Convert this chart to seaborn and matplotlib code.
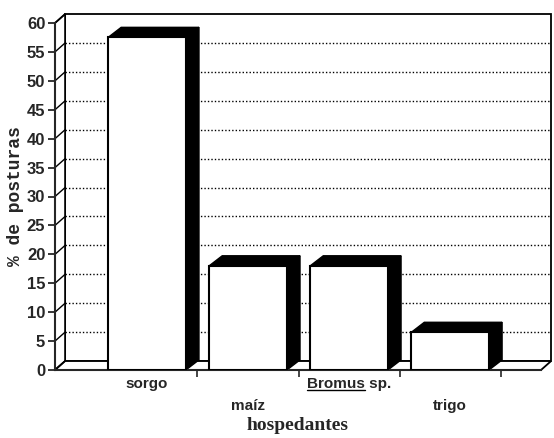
import numpy as np
import pandas as pd
import matplotlib
matplotlib.use("Agg")
import matplotlib.pyplot as plt
from matplotlib.patches import Polygon
from matplotlib.lines import Line2D
import seaborn as sns

# ----------------------
# data
# ----------------------
hosts = ["sorgo", "maíz", "Bromus sp.", "trigo"]
posturas = [57.5, 18.0, 18.0, 6.5]
tick_labels = ["sorgo", "\nmaíz", "Bromus sp.", "\ntrigo"]
yticks = list(range(0, 65, 5))

df = pd.DataFrame({"hospedante": hosts, "posturas": posturas})

# ----------------------
# style
# ----------------------
sns.set_style("ticks")
plt.rcParams["font.family"] = ["Liberation Sans", "DejaVu Sans"]

fig = plt.figure(figsize=(5.54, 4.38), dpi=100)
ax = fig.add_axes([55 / 554, 68 / 438, 486 / 554, 347 / 438])

xl, xr = -0.91, 3.90

# front faces
sns.barplot(data=df, x="hospedante", y="posturas", color="white", edgecolor="black",
            linewidth=1.5, width=0.77, saturation=1, ax=ax, zorder=3)
ax.set_xlim(xl, xr)   # barplot resets the limits, so set them afterwards
ax.set_ylim(0, 60)

# depth offsets (data units) for the fake 3d look
wdx, wdy = 0.10, 1.55   # walls / floor
bdx, bdy = 0.13, 1.75   # bars

# back wall, left wall, floor
ax.add_patch(Polygon([(xl + wdx, wdy), (xr + wdx, wdy), (xr + wdx, 60 + wdy), (xl + wdx, 60 + wdy)],
                     closed=True, facecolor="white", edgecolor="black", lw=1.3, zorder=0, clip_on=False))
ax.add_patch(Polygon([(xl, 0), (xl + wdx, wdy), (xl + wdx, 60 + wdy), (xl, 60)],
                     closed=True, facecolor="white", edgecolor="black", lw=1.3, zorder=0.5, clip_on=False))
ax.add_patch(Polygon([(xl, 0), (xr, 0), (xr + wdx, wdy), (xl + wdx, wdy)],
                     closed=True, facecolor="white", edgecolor="black", lw=1.3, zorder=0.6, clip_on=False))

for yv in yticks[1:-1]:
    ax.plot([xl + wdx, xr + wdx], [yv + wdy, yv + wdy], color="black", ls=(0, (1, 1.5)),
            lw=1.0, zorder=0.4, clip_on=False)
for yv in yticks:
    ax.plot([xl, xl + wdx], [yv, yv + wdy], color="black", lw=1.0, zorder=0.7, clip_on=False)

# top and side faces from the bars seaborn drew
bars = [p for p in ax.patches if p.get_zorder() == 3]
for p in bars:
    x0 = p.get_x()
    x1 = x0 + p.get_width()
    h = p.get_height()
    side = Polygon([(x1, 0), (x1 + bdx, bdy), (x1 + bdx, h + bdy), (x1, h)],
                   closed=True, facecolor="black", edgecolor="black", lw=1.0, zorder=2, clip_on=False)
    top = Polygon([(x0, h), (x1, h), (x1 + bdx, h + bdy), (x0 + bdx, h + bdy)],
                  closed=True, facecolor="black", edgecolor="black", lw=1.0, zorder=2, clip_on=False)
    ax.add_patch(side)
    ax.add_patch(top)

# axes
sns.despine(ax=ax, top=True, right=True)
ax.spines["left"].set_linewidth(1.5)
ax.spines["bottom"].set_linewidth(1.5)
ax.spines["left"].set_zorder(4)
ax.set_yticks(yticks)
ax.set_yticklabels([str(v) for v in yticks], fontsize=12, fontweight="bold")
ax.tick_params(axis="y", length=5, width=1.3, pad=2)

ax.set_xticks(range(len(hosts)))
ax.set_xticklabels(tick_labels, fontsize=11, fontweight="bold")
for t in ax.get_xticklabels():
    t.set_linespacing(1.7)
ax.tick_params(axis="x", length=0, pad=5)
ax.set_xticks([0.5, 1.5, 2.5, 3.5], minor=True)
ax.tick_params(axis="x", which="minor", length=5, width=1.2)

ax.set_xlabel("hospedantes", fontsize=14, fontweight="bold", family="Liberation Serif", labelpad=3)
ax.set_ylabel("% de posturas", fontsize=13, fontweight="bold", family="Liberation Mono")
ax.yaxis.set_label_coords(-0.064, 0.5)

# underline the genus name "Bromus"
fig.canvas.draw()
renderer = fig.canvas.get_renderer()
lab = ax.get_xticklabels()[2]
bb = lab.get_window_extent(renderer)
tmp = fig.text(0, 0, "Bromus", fontsize=11, fontweight="bold")
wb = tmp.get_window_extent(renderer).width
tmp.remove()
W, H = fig.bbox.width, fig.bbox.height
uy = (bb.y0 + 1) / H
fig.add_artist(Line2D([bb.x0 / W, (bb.x0 + wb) / W], [uy, uy], color="black", lw=1.0))

fig.savefig("out.png", dpi=100)
